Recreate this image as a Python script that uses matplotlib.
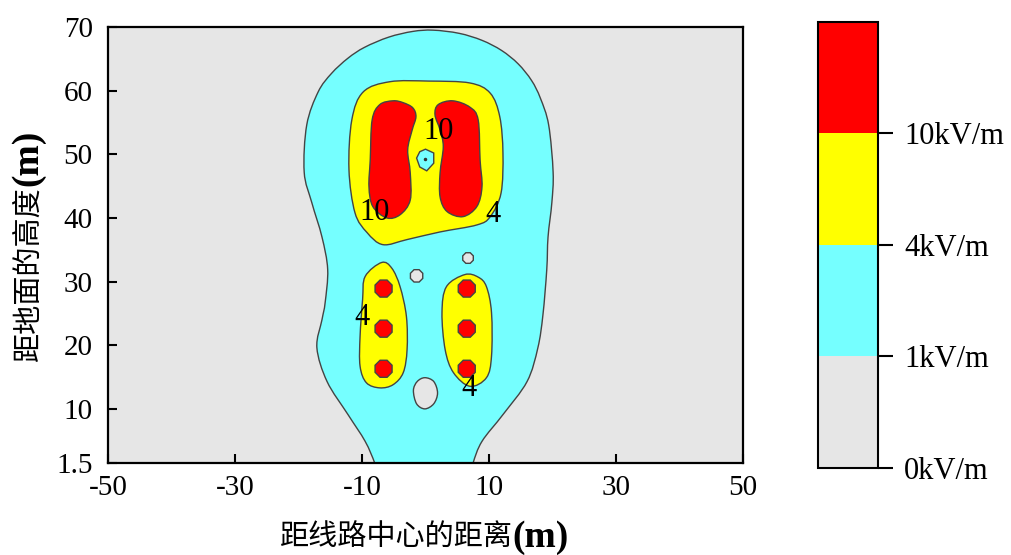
import numpy as np
import matplotlib
matplotlib.use("Agg")
import matplotlib.pyplot as plt
from matplotlib.colors import ListedColormap, BoundaryNorm
from matplotlib.patches import RegularPolygon, PathPatch
from matplotlib.path import Path
import matplotlib.colorbar as mcolorbar

plt.rcParams['font.family'] = ['Liberation Serif', 'DejaVu Serif']
plt.rcParams['axes.unicode_minus'] = False

# contour outlines (m)
# 1 kV/m boundary
outer_x = [-7.3, -8.0, -9.5, -12.2, -15.5, -17.1, -16.3, -15.8, -15.4, -16.3, -17.9, -19.1, -18.7,
           -16.9, -14.8, -12.2, -9.6, -5.8, -2.0, 1.2, 5.3, 8.9, 12.0, 14.6, 16.7, 18.1, 19.4,
           20.1, 19.9, 19.3, 19.1, 18.5, 17.7, 16.0, 12.2, 8.9, 7.5, 7.0, 0.0]
outer_y = [-1.0, 1.5, 4.9, 9.1, 14.3, 19.6, 24.0, 26.7, 31.9, 37.0, 42.4, 47.2, 54.6,
           59.8, 62.7, 65.1, 66.8, 68.4, 69.3, 69.5, 69.0, 67.9, 66.3, 64.2, 61.6, 58.8, 54.6,
           47.2, 42.4, 37.0, 31.9, 24.8, 19.6, 14.3, 9.1, 4.9, 1.5, -1.0, -3.0]

# 4 kV/m boundaries
top4_x = [-5.6, -9.8, -11.6, -12.05, -11.1, -9.2, -6.7, -2.9, 2.3, 8.1, 10.2, 11.9, 12.2, 11.7, 10.2, 7.0, 0.5]
top4_y = [61.4, 59.8, 55.4, 47.6, 40.8, 37.7, 35.8, 36.6, 37.8, 38.9, 40.2, 43.9, 50.2, 55.9, 59.6, 61.2, 61.5]

low4_left_x = [-6.9, -5.3, -4.0, -3.0, -2.9, -3.5, -5.1, -7.2, -9.3, -10.3, -10.3, -9.9, -9.5]
low4_left_y = [33.0, 32.1, 29.2, 24.5, 19.3, 15.7, 13.8, 13.3, 14.1, 16.7, 21.4, 27.2, 30.8]

low4_right_x = [6.2, 8.3, 9.6, 10.4, 10.4, 9.6, 7.0, 4.4, 3.1, 2.6, 3.3]
low4_right_y = [31.1, 30.7, 29.2, 25.1, 18.3, 14.9, 13.55, 15.7, 19.3, 25.1, 29.2]

# 10 kV/m boundaries
red_left_x = [-5.1, -7.2, -8.4, -8.7, -8.9, -8.3, -6.1, -4.0, -2.4, -2.4, -2.8, -2.1, -1.5, -2.0, -3.5]
red_left_y = [58.4, 57.8, 55.4, 49.1, 44.9, 41.8, 40.0, 40.5, 42.8, 47.1, 50.7, 53.8, 55.9, 57.3, 58.1]

red_right_x = [4.3, 7.0, 8.3, 8.6, 8.9, 8.1, 5.9, 3.4, 2.3, 2.3, 2.8, 2.3, 1.5, 2.0]
red_right_y = [58.4, 57.4, 55.4, 49.1, 44.9, 41.8, 40.2, 41.0, 43.3, 47.1, 51.2, 53.8, 56.2, 57.8]

dot_x = [-6.6, -6.6, -6.6, 6.5, 6.5, 6.5]
dot_y = [28.9, 22.6, 16.3, 28.9, 22.6, 16.3]
dot_r = 1.45

# low-field holes
hole_x = [-0.1, 1.3, 1.9, 1.3, -0.1, -1.4, -1.9, -1.3]
hole_y = [14.9, 14.3, 12.5, 10.8, 10.0, 10.8, 12.9, 14.3]
small_hole_x = [-1.4, 6.7]
small_hole_y = [30.9, 33.7]
small_hole_r = [1.05, 0.9]

mid_x = [0.0, 1.3, 1.3, 0.2, -0.9, -1.4, -0.9]
mid_y = [50.8, 50.2, 48.6, 47.4, 48.0, 49.4, 50.4]

lab_text = ['10', '10', '4', '4', '4']
lab_x = [2.0, -8.0, 10.6, -10.0, 6.9]
lab_y = [53.5, 40.8, 40.5, 24.3, 13.2]

levels = [0, 1, 4, 10, 16]
level_names = ['0kV/m', '1kV/m', '4kV/m', '10kV/m']
colors = ['#e6e6e6', '#75ffff', '#ffff00', '#ff0000']

x_ticks = [-50, -30, -10, 10, 30, 50]
y_ticks = [1.5, 10, 20, 30, 40, 50, 60, 70]

edge = '#444444'
fs = 21


def outline(xs, ys):
    # closed curve through the read points (catmull-rom drawn as bezier)
    p = np.column_stack([xs, ys])
    n = len(p)
    verts = [p[0]]
    codes = [Path.MOVETO]
    for i in range(n):
        p0, p1, p2, p3 = p[i - 1], p[i], p[(i + 1) % n], p[(i + 2) % n]
        verts += [p1 + (p2 - p0) / 6, p2 - (p3 - p1) / 6, p2]
        codes += [Path.CURVE4] * 3
    return Path(verts, codes)


def shape(ax, xs, ys, color):
    ax.add_patch(PathPatch(outline(xs, ys), facecolor=color, edgecolor=edge, lw=1.0))


fig = plt.figure(figsize=(10.11, 5.55), dpi=100)
ax = fig.add_axes([0.1068, 0.1658, 0.6281, 0.7856])
ax.set_facecolor(colors[0])

shape(ax, outer_x, outer_y, colors[1])
for xs, ys in [(top4_x, top4_y), (low4_left_x, low4_left_y), (low4_right_x, low4_right_y)]:
    shape(ax, xs, ys, colors[2])
for xs, ys in [(red_left_x, red_left_y), (red_right_x, red_right_y)]:
    shape(ax, xs, ys, colors[3])
for cx, cy in zip(dot_x, dot_y):
    ax.add_patch(RegularPolygon((cx, cy), numVertices=8, radius=dot_r, orientation=np.pi / 8,
                                facecolor=colors[3], edgecolor=edge, lw=1.0))
shape(ax, hole_x, hole_y, colors[0])
for cx, cy, r in zip(small_hole_x, small_hole_y, small_hole_r):
    ax.add_patch(RegularPolygon((cx, cy), numVertices=8, radius=r, orientation=np.pi / 8,
                                facecolor=colors[0], edgecolor=edge, lw=1.0))
ax.fill(mid_x, mid_y, facecolor=colors[1], edgecolor=edge, lw=1.0)
ax.plot([0.0], [49.2], 'o', color='#333333', ms=1.5)

for t, lx, ly in zip(lab_text, lab_x, lab_y):
    ax.text(lx, ly, t, fontsize=22, ha='center', va='center')

ax.set_xlim(-50, 50)
ax.set_ylim(1.5, 70)
ax.set_xticks(x_ticks)
ax.set_xticklabels([str(v) for v in x_ticks])
ax.set_yticks(y_ticks)
ax.set_yticklabels(['1.5'] + [str(v) for v in y_ticks[1:]])
ax.tick_params(direction='in', length=6.5, width=1.5, labelsize=fs)
ax.tick_params(axis='y', pad=11)
ax.tick_params(axis='x', pad=9)
for s in ax.spines.values():
    s.set_linewidth(1.6)

# axis titles: Chinese part + bold "(m)"
fig.text(0.507, 0.031, '距线路中心的距离', family=['Noto Sans CJK SC'], fontsize=fs,
         ha='right', va='center')
fig.text(0.507, 0.031, '(m)', fontsize=27, fontweight='bold', ha='left', va='center')
fig.text(0.028, 0.665, '距地面的高度', family=['Noto Sans CJK SC'], fontsize=fs,
         rotation=90, ha='center', va='top')
fig.text(0.028, 0.665, '(m)', fontsize=27, fontweight='bold', rotation=90,
         ha='center', va='bottom')

# colour bar
cax = fig.add_axes([0.809, 0.1568, 0.0593, 0.8036])
cmap = ListedColormap(colors)
norm = BoundaryNorm(levels, cmap.N)
cb = mcolorbar.ColorbarBase(cax, cmap=cmap, norm=norm, boundaries=levels,
                            spacing='uniform', ticks=levels[:-1])
cb.set_ticklabels(level_names)
cb.outline.set_linewidth(1.5)
cax.tick_params(direction='out', length=11, width=1.5, labelsize=22, pad=8)
cax.minorticks_off()

fig.savefig('out.png', dpi=100)
